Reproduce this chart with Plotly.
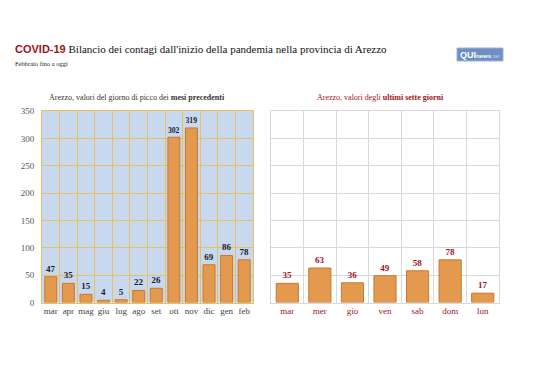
import plotly.graph_objects as go

months = ["mar", "apr", "mag", "giu", "lug", "ago", "set", "ott", "nov", "dic", "gen", "feb"]
month_peaks = [47, 35, 15, 4, 5, 22, 26, 302, 319, 69, 86, 78]
days = ["mar", "mer", "gio", "ven", "sab", "dom", "lun"]
day_values = [35, 63, 36, 49, 58, 78, 17]

SERIF = "Liberation Serif, Times New Roman, serif"
SANS = "Liberation Sans, Arial, sans-serif"
BAR = "#e39a4e"
BAR_LINE = "#c9782f"
DARKRED = "#a3121b"

W, H, OFF = 538, 380, 8  # page body margin offset


def px(x):
    return (x - OFF) / W


def py(y):
    return 1 - (y - OFF) / H


fig = go.Figure()
fig.add_trace(go.Bar(
    x=months, y=month_peaks, xaxis="x", yaxis="y",
    marker=dict(color=BAR, line=dict(color=BAR_LINE, width=1)),
    width=0.68,
    text=[str(v) for v in month_peaks], textposition="outside",
    textfont=dict(family=SERIF, size=9, color="#1a1a2e"),
    texttemplate="<b>%{text}</b>", cliponaxis=False, hoverinfo="skip",
))
fig.add_trace(go.Bar(
    x=days, y=day_values, xaxis="x2", yaxis="y2",
    marker=dict(color=BAR, line=dict(color=BAR_LINE, width=1)),
    width=0.68,
    text=[str(v) for v in day_values], textposition="outside",
    textfont=dict(family=SERIF, size=9, color=DARKRED),
    texttemplate="<b>%{text}</b>", cliponaxis=False, hoverinfo="skip",
))

ydom = [py(302.5), py(111)]
fig.update_layout(
    width=W, height=H,
    margin=dict(l=0, r=0, t=0, b=0),
    paper_bgcolor="white", plot_bgcolor="white",
    showlegend=False,
    xaxis=dict(domain=[px(42), px(253)], anchor="y", type="category", automargin=False,
               tickson="boundaries", showgrid=True, gridcolor="#e6c25e", gridwidth=1,
               ticks="", tickangle=0, tickfont=dict(family=SERIF, size=9, color="#444"),
               showline=True, linecolor="#e6c25e", mirror=True, zeroline=False),
    yaxis=dict(domain=ydom, anchor="x", range=[0, 350], dtick=50, automargin=False,
               showgrid=True, gridcolor="#e6c25e", gridwidth=1,
               tickfont=dict(family=SERIF, size=9, color="#555"),
               showline=True, linecolor="#e6c25e", mirror=True, zeroline=False,
               ticks="outside", ticklen=5, tickcolor="rgba(0,0,0,0)"),
    xaxis2=dict(domain=[px(271), px(499)], anchor="y2", type="category", automargin=False,
                tickson="boundaries", showgrid=True, gridcolor="#d9d9d9", gridwidth=1,
                ticks="", tickangle=0, tickfont=dict(family=SERIF, size=9, color=DARKRED),
                showline=True, linecolor="#d9d9d9", mirror=True, zeroline=False),
    yaxis2=dict(domain=ydom, anchor="x2", range=[0, 350], dtick=50, automargin=False,
                showgrid=True, gridcolor="#d9d9d9", gridwidth=1,
                showticklabels=False, showline=True, linecolor="#d9d9d9", mirror=True,
                zeroline=False),
)

# left plot background (light blue)
fig.add_shape(type="rect", xref="x domain", yref="y domain", x0=0, x1=1, y0=0, y1=1,
              fillcolor="#c8d8ef", line=dict(width=0), layer="below")

anns = [
    dict(x=px(13), y=py(49), xanchor="left", yanchor="middle",
         text="<span style='font-family:Liberation Sans, Arial, sans-serif;color:#a3121b'><b>COVID-19</b></span>"
              " Bilancio dei contagi dall'inizio della pandemia nella provincia di Arezzo",
         font=dict(family=SERIF, size=11, color="#111")),
    dict(x=px(13), y=py(63), xanchor="left", yanchor="middle",
         text="Febbraio fino a oggi", font=dict(family=SERIF, size=6.5, color="#222")),
    dict(x=px(137), y=py(98), xanchor="center", yanchor="middle",
         text="Arezzo, valori del giorno di picco dei <b>mesi precedenti</b>",
         font=dict(family=SERIF, size=8, color="#333")),
    dict(x=px(380), y=py(98), xanchor="center", yanchor="middle",
         text="Arezzo, valori degli <b>ultimi sette giorni</b>",
         font=dict(family=SERIF, size=8, color=DARKRED)),
]
for a in anns:
    a.update(xref="paper", yref="paper", showarrow=False)
    fig.add_annotation(**a)

# logo
fig.add_shape(type="rect", xref="paper", yref="paper",
              x0=px(457), x1=px(503), y0=py(61), y1=py(48),
              fillcolor="#6d8fc4", line=dict(color="#9fb4d8", width=1))
fig.add_annotation(xref="paper", yref="paper", x=px(458), y=py(54.5),
                   xanchor="left", yanchor="middle", showarrow=False,
                   text="<b>QUI</b><span style='font-size:6px'><b>news</b></span><span style='font-size:5px;color:#c9d6ee'>.net</span>",
                   font=dict(family=SANS, size=9, color="white"))

fig.write_html("out.html")
